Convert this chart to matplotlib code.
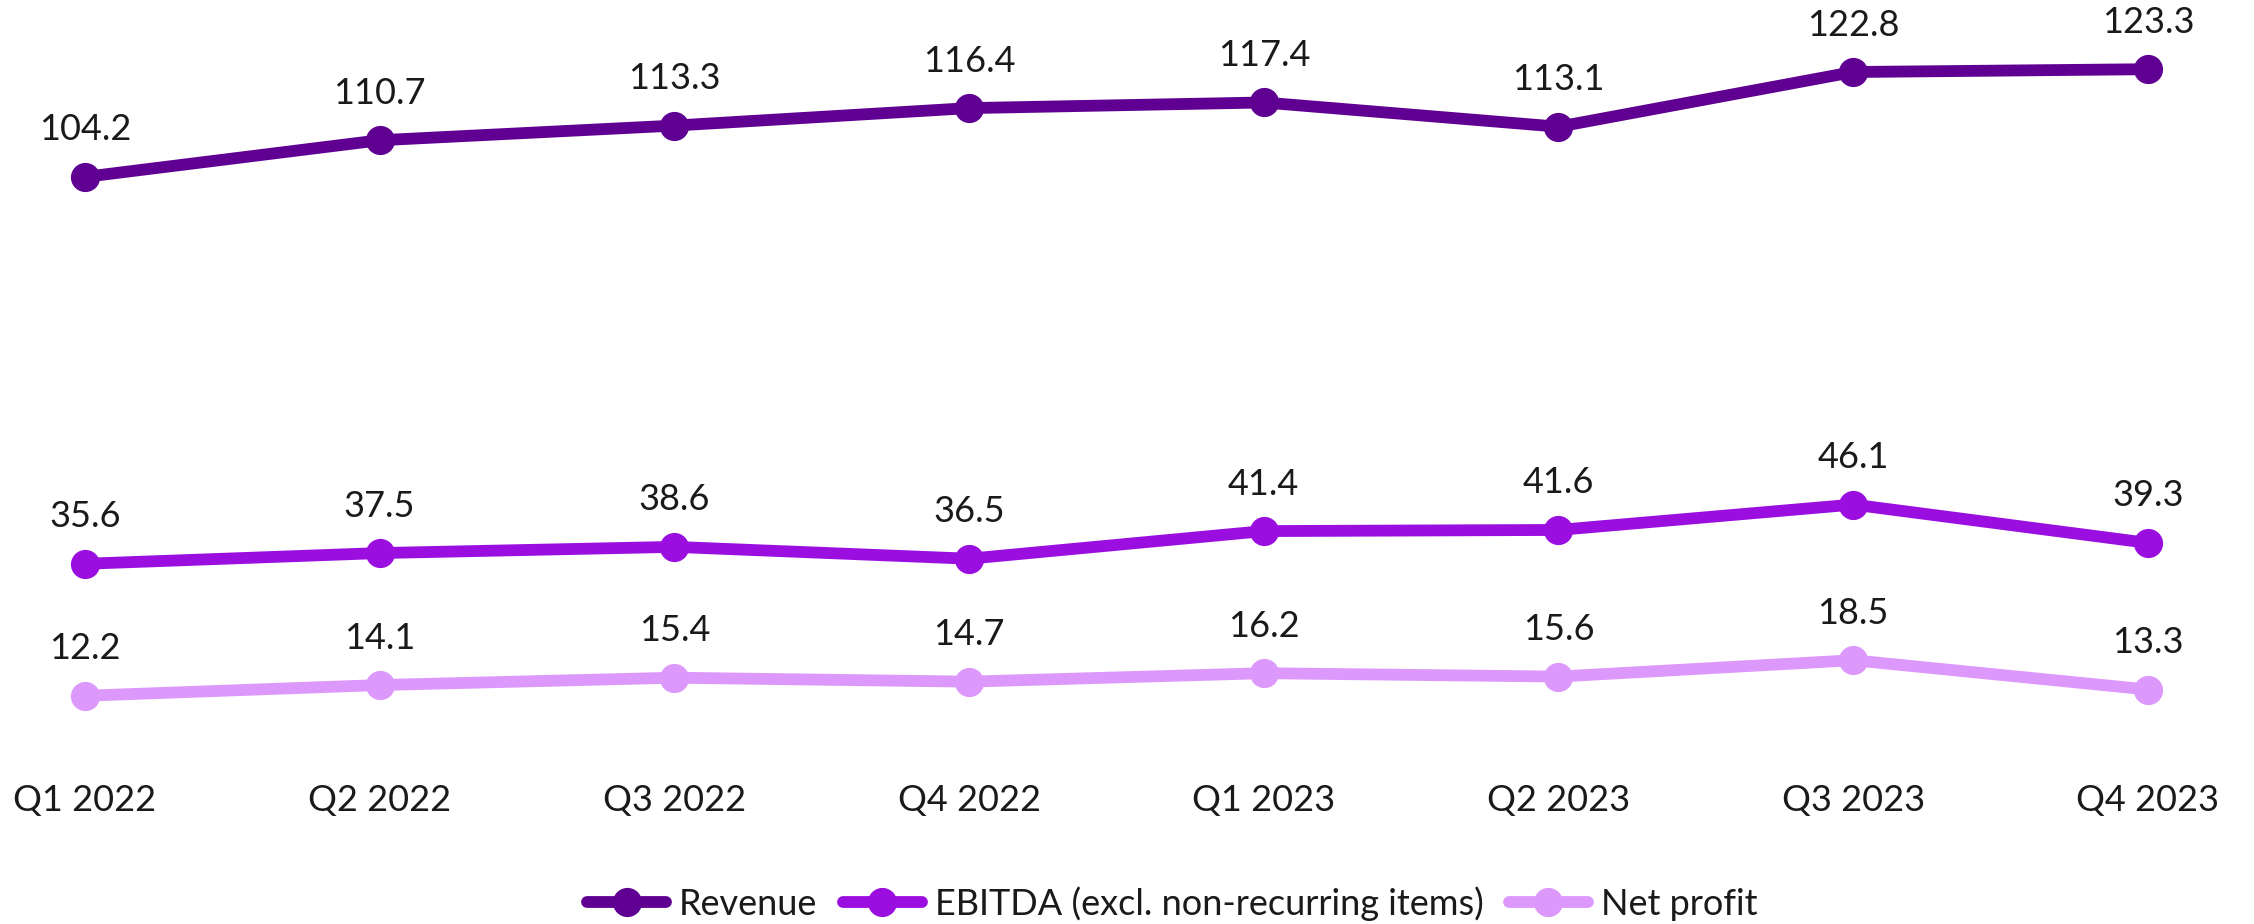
import matplotlib.pyplot as plt
from matplotlib.lines import Line2D

# quarterly figures
quarters = ['Q1 2022', 'Q2 2022', 'Q3 2022', 'Q4 2022',
            'Q1 2023', 'Q2 2023', 'Q3 2023', 'Q4 2023']
revenue = [104.2, 110.7, 113.3, 116.4, 117.4, 113.1, 122.8, 123.3]
ebitda = [35.6, 37.5, 38.6, 36.5, 41.4, 41.6, 46.1, 39.3]
net_profit = [12.2, 14.1, 15.4, 14.7, 16.2, 15.6, 18.5, 13.3]

series = [
    ('Revenue', revenue, '#5f0092'),
    ('EBITDA (excl. non-recurring items)', ebitda, '#9a0ee0'),
    ('Net profit', net_profit, '#dc99fb'),
]

plt.rcParams['font.family'] = ['Lato', 'DejaVu Sans']
txt_color = '#1a1a1a'
fs = 26

fig = plt.figure(figsize=(22.54, 9.24), dpi=100)
ax = fig.add_axes([0, 0.1667, 1, 0.8333])

x = list(range(len(quarters)))
for name, vals, col in series:
    ax.plot(x, vals, color=col, linewidth=8.5, marker='o', markersize=20,
            solid_capstyle='round', solid_joinstyle='round', label=name)
    # value labels above each point
    for xi, v in zip(x, vals):
        ax.annotate(f'{v:.1f}', (xi, v), xytext=(0, 47), textcoords='offset pixels',
                    ha='center', va='center', fontsize=fs, color=txt_color)

ax.set_xlim(-0.288, 7.36)
ax.set_ylim(-0.96, 135.57)
ax.set_xticks(x)
ax.set_xticklabels(quarters, fontsize=fs, color=txt_color)
ax.tick_params(axis='x', length=0, pad=10)
ax.set_yticks([])
for s in ax.spines.values():
    s.set_visible(False)

handles = [Line2D([0], [0], color=col, linewidth=8.5, marker='o', markersize=20,
                  solid_capstyle='round') for _, _, col in series]
leg = fig.legend(handles, [n for n, _, _ in series], loc='lower center',
                 bbox_to_anchor=(0.52, -0.032), ncol=3, frameon=False,
                 fontsize=26, handlelength=2.2, handletextpad=0.35, columnspacing=0.7)
for t in leg.get_texts():
    t.set_color(txt_color)

fig.savefig('out.png', dpi=100)
